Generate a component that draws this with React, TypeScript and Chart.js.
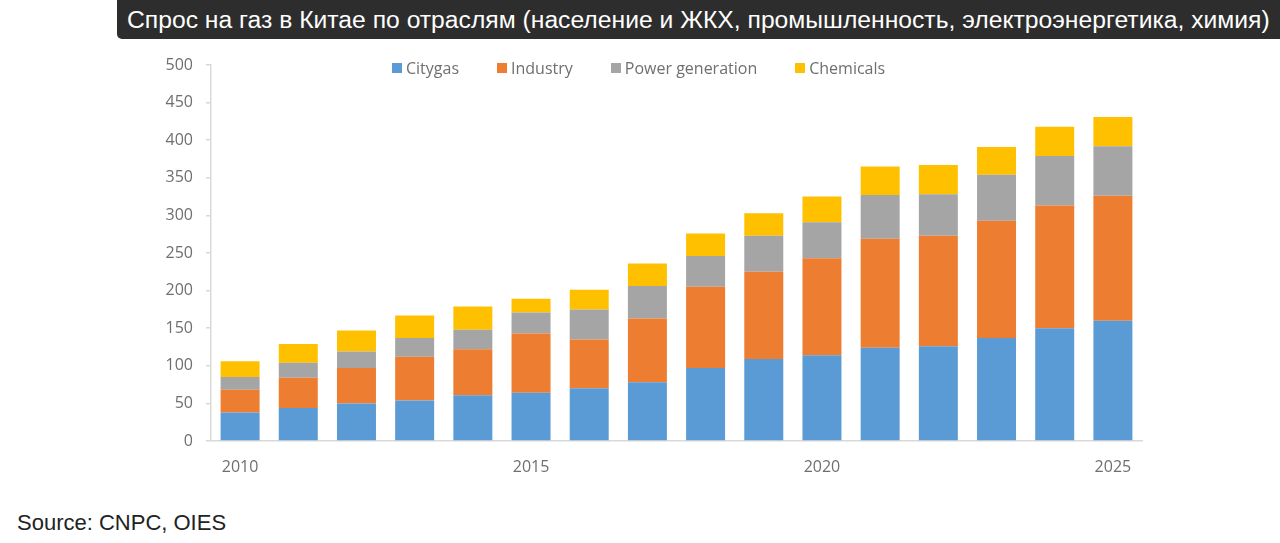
import { useEffect, useRef } from "react";
import { Chart, registerables } from "chart.js";

Chart.register(...registerables);

const years = [
  "2010", "2011", "2012", "2013", "2014", "2015", "2016", "2017",
  "2018", "2019", "2020", "2021", "2022", "2023", "2024", "2025",
];
const citygas = [38, 44, 50, 54, 61, 64, 70, 78, 97, 109, 114, 124, 126, 137, 150, 160];
const industry = [30, 40, 47, 58, 61, 79, 65, 85, 108, 116, 129, 145, 147, 156, 163, 166];
const power = [17, 20, 22, 25, 26, 28, 40, 43, 41, 48, 48, 58, 55, 61, 66, 66];
const chemicals = [21, 25, 28, 30, 31, 18, 26, 30, 30, 30, 34, 38, 39, 37, 39, 39];

const seriesNames = ["Citygas", "Industry", "Power generation", "Chemicals"];
const seriesColors = ["#5B9BD5", "#ED7D31", "#A5A5A5", "#FFC000"];
const shownYears = ["2010", "2015", "2020", "2025"];

const titleText =
  "Спрос на газ в Китае по отраслям (население и ЖКХ, промышленность, электроэнергетика, химия)";

const axisFont = { family: "'Open Sans', sans-serif", size: 16 };
const axisColor = "#d9d9d9";
const tickColor = "#6f6f6f";

function GasChart() {
  const canvasRef = useRef<any>(null);

  useEffect(() => {
    if (!canvasRef.current) return;
    const ctx = canvasRef.current.getContext("2d");
    const values = [citygas, industry, power, chemicals];

    const chart = new Chart(ctx, {
      type: "bar",
      data: {
        labels: years,
        datasets: seriesNames.map((name, i) => ({
          label: name,
          data: values[i],
          backgroundColor: seriesColors[i],
          borderWidth: 0,
          barPercentage: 0.67,
          categoryPercentage: 1,
        })),
      },
      options: {
        animation: false,
        responsive: true,
        maintainAspectRatio: false,
        layout: { padding: { top: 25, right: 18, left: 0, bottom: 0 } },
        plugins: {
          legend: { display: false },
          tooltip: { enabled: false },
        },
        scales: {
          x: {
            stacked: true,
            grid: { display: false },
            border: { display: true, color: axisColor, width: 1.5 },
            ticks: {
              color: tickColor,
              font: axisFont,
              padding: 9,
              autoSkip: false,
              maxRotation: 0,
              callback: (_v: any, i: number) =>
                shownYears.includes(years[i]) ? years[i] : "",
            },
            afterFit: (scale: any) => {
              scale.height = 59;
            },
          },
          y: {
            stacked: true,
            min: 0,
            max: 500,
            grid: {
              drawOnChartArea: false,
              drawTicks: true,
              tickLength: 5,
              color: axisColor,
              lineWidth: 1.5,
            },
            border: { display: true, color: axisColor, width: 1.5 },
            ticks: {
              stepSize: 50,
              color: tickColor,
              font: axisFont,
              padding: 13,
            },
            afterFit: (scale: any) => {
              scale.width = 211;
            },
          },
        },
      },
    });

    return () => chart.destroy();
  }, []);

  return <canvas ref={canvasRef} />;
}

export default function App() {
  return (
    <div
      style={{
        position: "absolute",
        left: 0,
        top: 0,
        width: 1280,
        height: 543,
        background: "#fff",
        overflow: "hidden",
      }}
    >
      <div
        style={{
          position: "absolute",
          left: 117,
          top: 0,
          width: 1163,
          height: 39,
          background: "#2d2d2d",
          borderBottomLeftRadius: 5,
          color: "#fff",
          fontFamily: "'Liberation Sans', Arial, sans-serif",
          fontSize: 24.7,
          lineHeight: "39px",
          paddingLeft: 10,
          whiteSpace: "nowrap",
          boxSizing: "border-box",
        }}
      >
        {titleText}
      </div>

      <div style={{ position: "absolute", left: 0, top: 40, width: 1160, height: 460 }}>
        <GasChart />
      </div>

      <div
        style={{
          position: "absolute",
          left: 392,
          top: 57,
          display: "flex",
          alignItems: "center",
          fontFamily: "'Open Sans', sans-serif",
          fontSize: 16,
          color: tickColor,
          whiteSpace: "nowrap",
        }}
      >
        {seriesNames.map((name, i) => (
          <div
            key={name}
            style={{ display: "flex", alignItems: "center", marginRight: 38 }}
          >
            <span
              style={{
                display: "inline-block",
                width: 10,
                height: 10,
                background: seriesColors[i],
                marginRight: 4,
              }}
            />
            <span>{name}</span>
          </div>
        ))}
      </div>

      <div
        style={{
          position: "absolute",
          left: 17,
          top: 510,
          fontFamily: "'Liberation Sans', Arial, sans-serif",
          fontSize: 22,
          color: "#222",
          whiteSpace: "nowrap",
        }}
      >
        Source: CNPC, OIES
      </div>
    </div>
  );
}
